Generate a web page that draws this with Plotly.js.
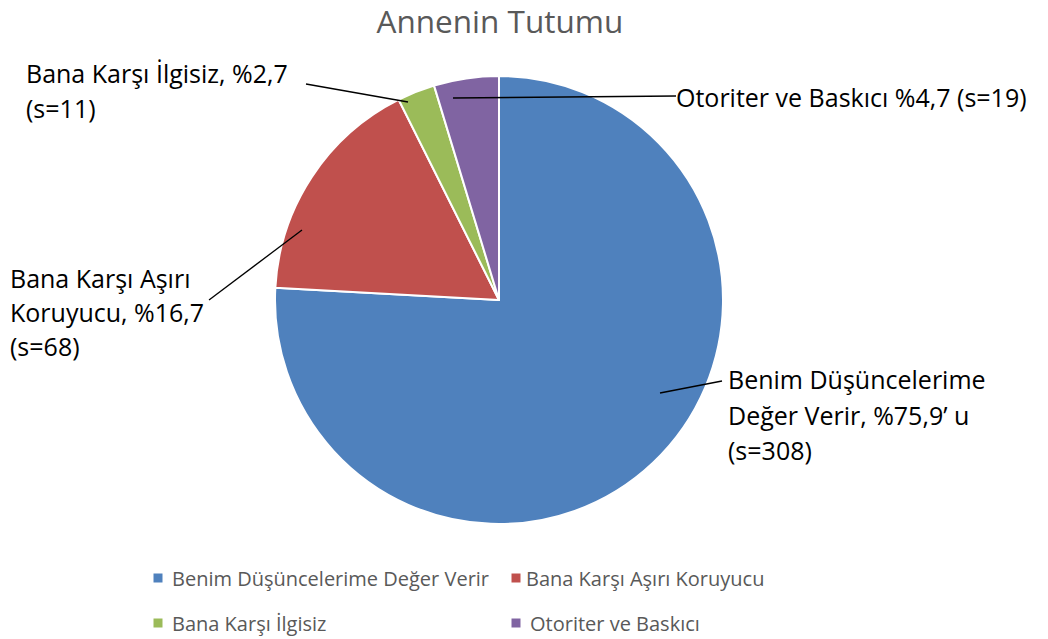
<!DOCTYPE html>
<html>
<head>
<meta charset="utf-8">
<script src="https://cdn.plot.ly/plotly-3.0.1.min.js"></script>
<style>html,body{margin:0;padding:0;background:#fff;}#chart{width:1048px;height:639px;}</style>
</head>
<body>
<div id="chart"></div>
<script>
// ---- data ----
var categories = ["Benim Düşüncelerime Değer Verir", "Bana Karşı Aşırı Koruyucu", "Bana Karşı İlgisiz", "Otoriter ve Baskıcı"];
var counts = [308, 68, 11, 19];
var percents = ["75,9", "16,7", "2,7", "4,7"];
var colors = ["#4F81BD", "#C0504D", "#9BBB59", "#8064A2"];
var labelLines = [
  ["Benim Düşüncelerime", "Değer Verir, %" + percents[0] + "’ u", "(s=" + counts[0] + ")"],
  ["Bana Karşı Aşırı", "Koruyucu, %" + percents[1], "(s=" + counts[1] + ")"],
  ["Bana Karşı İlgisiz, %" + percents[2], "(s=" + counts[2] + ")"],
  ["Otoriter ve Baskıcı %" + percents[3] + " (s=" + counts[3] + ")"]
];

// ---- layout helpers ----
var W = 1048, H = 639;
function px(x) { return x / W; }
function py(y) { return 1 - y / H; }
var FONT = "'Open Sans', 'Noto Sans', sans-serif";

var cx = 499, cy = 300, r = 224;

var trace = {
  type: "pie",
  labels: categories,
  values: counts,
  sort: false,
  direction: "clockwise",
  rotation: 0,
  textinfo: "none",
  hoverinfo: "none",
  showlegend: false,
  marker: { colors: colors, line: { color: "#ffffff", width: 2 } },
  domain: { x: [px(cx - r), px(cx + r)], y: [py(cy + r), py(cy - r)] }
};

// label positions (left x, first line center y, line step) and leader lines
var labelPos = [
  { x: 726, y: 379, step: 35.5 },
  { x: 8, y: 278, step: 34 },
  { x: 24, y: 73, step: 35 },
  { x: 674, y: 97, step: 35 }
];
var leaders = [
  [660, 393, 722, 381],
  [302, 230, 209, 300],
  [408, 102, 306, 84],
  [453, 98, 676, 96]
];

var annotations = [];
var shapes = [];
labelLines.forEach(function (lines, i) {
  lines.forEach(function (t, k) {
    annotations.push({
      xref: "paper", yref: "paper",
      x: px(labelPos[i].x), y: py(labelPos[i].y + k * labelPos[i].step),
      xanchor: "left", yanchor: "middle",
      text: t, showarrow: false,
      font: { family: FONT, size: 25, color: "#000000" }
    });
  });
  var L = leaders[i];
  shapes.push({
    type: "line", xref: "paper", yref: "paper",
    x0: px(L[0]), y0: py(L[1]), x1: px(L[2]), y1: py(L[3]),
    line: { color: "#000000", width: 1.3 }
  });
});

// legend (two columns, two rows)
var legPos = [
  { mx: 158, tx: 170, y: 578 },
  { mx: 516, tx: 524, y: 578 },
  { mx: 158, tx: 170, y: 623 },
  { mx: 516, tx: 528, y: 623 }
];
categories.forEach(function (c, i) {
  var p = legPos[i];
  var s = 4.5;
  shapes.push({
    type: "rect", xref: "paper", yref: "paper",
    x0: px(p.mx - s), x1: px(p.mx + s), y0: py(p.y - s), y1: py(p.y + s),
    fillcolor: colors[i], line: { width: 0 }
  });
  annotations.push({
    xref: "paper", yref: "paper",
    x: px(p.tx), y: py(p.y),
    xanchor: "left", yanchor: "middle",
    text: c, showarrow: false,
    font: { family: FONT, size: 20, color: "#595959" }
  });
});

var layout = {
  width: W, height: H,
  margin: { l: 0, r: 0, t: 0, b: 0 },
  paper_bgcolor: "#ffffff",
  plot_bgcolor: "#ffffff",
  showlegend: false,
  title: {
    text: "Annenin Tutumu",
    font: { family: FONT, size: 31.5, color: "#595959" },
    x: 0.477, xanchor: "center",
    y: py(22), yanchor: "middle"
  },
  annotations: annotations,
  shapes: shapes
};

Plotly.newPlot("chart", [trace], layout, { displayModeBar: false, staticPlot: true });
</script>
</body>
</html>
